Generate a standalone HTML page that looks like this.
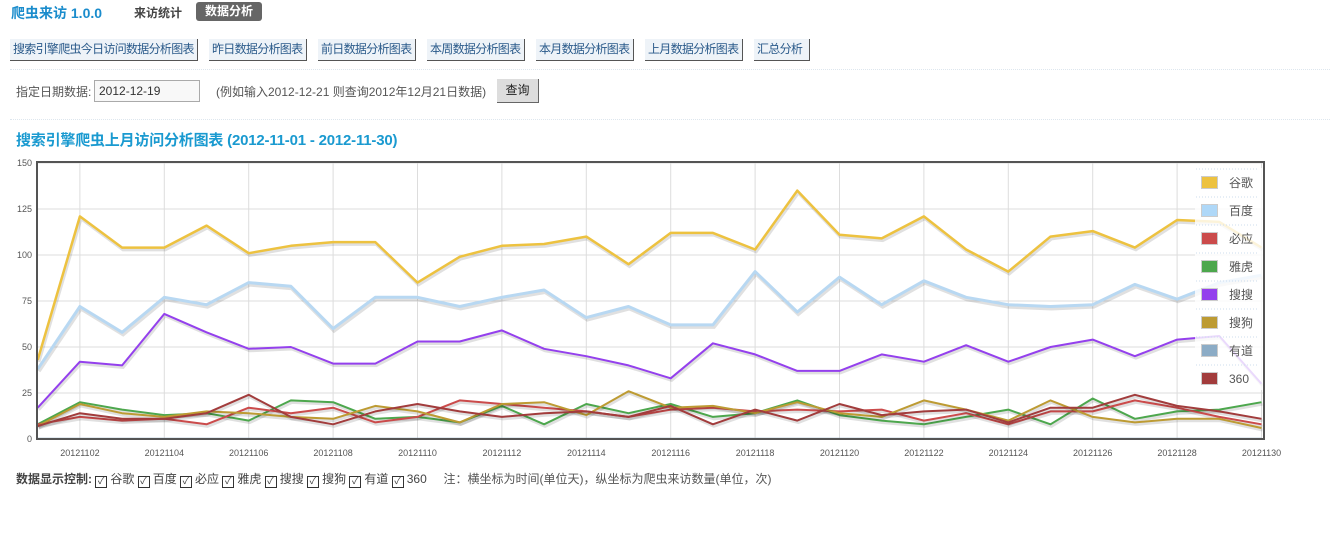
<!DOCTYPE html>
<html><head><meta charset="utf-8"><style>
body{margin:0;width:1331px;height:536px;background:#fff;font-family:"Liberation Sans","Noto Sans CJK SC",sans-serif;font-size:12px;color:#333;position:relative;overflow:hidden}
.a{position:absolute;white-space:nowrap}
.btn{position:absolute;top:39px;height:22px;line-height:21px;background:#eef3f8;border-right:1px solid #555;border-bottom:1px solid #555;color:#2a5a8a;font-size:12px;letter-spacing:-0.7px;padding:0 3px;box-sizing:border-box;white-space:nowrap;overflow:hidden}
.dot{position:absolute;left:10px;width:1320px;border-top:1px dotted #dde6ee}
.cb{display:inline-block;width:10px;height:10px;border:1px solid #333;font-size:10px;line-height:9px;text-align:center;vertical-align:-1px;margin-right:3px}
</style></head><body>
<div class="a" style="left:11px;top:3px;font-size:14px;font-weight:bold;color:#1a8ccc">爬虫来访 1.0.0</div>
<div class="a" style="left:134px;top:4px;font-size:12px;font-weight:bold;color:#444">来访统计</div>
<div class="a" style="left:196px;top:2px;width:66px;height:19px;background:#666;border-radius:3px;color:#fff;font-weight:bold;font-size:12px;line-height:19px;text-align:center">数据分析</div>
<div class="btn" style="left:10px;width:188px">搜索引擎爬虫今日访问数据分析图表</div>
<div class="btn" style="left:209px;width:98px">昨日数据分析图表</div>
<div class="btn" style="left:318px;width:98px">前日数据分析图表</div>
<div class="btn" style="left:427px;width:98px">本周数据分析图表</div>
<div class="btn" style="left:536px;width:98px">本月数据分析图表</div>
<div class="btn" style="left:645px;width:98px">上月数据分析图表</div>
<div class="btn" style="left:754px;width:56px">汇总分析</div>
<div class="dot" style="top:69px"></div>
<div class="a" style="left:16px;top:83px;color:#555">指定日期数据:</div>
<div class="a" style="left:94px;top:80px;border:1px solid #aaa;background:#f8f8f8;line-height:20px;padding-left:4px;box-sizing:border-box;width:106px;height:22px">2012-12-19</div>
<div class="a" style="left:216px;top:83px;color:#555">(例如输入2012-12-21 则查询2012年12月21日数据)</div>
<div class="a" style="left:497px;top:79px;width:41px;height:23px;background:#ddd;border-right:1px solid #666;border-bottom:1px solid #666;line-height:23px;text-align:center;color:#222">查询</div>
<div class="dot" style="top:119px"></div>
<div class="a" style="left:16px;top:129px;font-size:15px;font-weight:bold;color:#1a9ad0;letter-spacing:-0.2px">搜索引擎爬虫上月访问分析图表 (2012-11-01 - 2012-11-30)</div>
<svg id="c" class="a" style="left:0;top:150px" width="1331" height="310"></svg>
<div class="a" style="left:16px;top:470px;color:#444"><b>数据显示控制:</b> <span class="cb">✓</span>谷歌 <span class="cb">✓</span>百度 <span class="cb">✓</span>必应 <span class="cb">✓</span>雅虎 <span class="cb">✓</span>搜搜 <span class="cb">✓</span>搜狗 <span class="cb">✓</span>有道 <span class="cb">✓</span>360 &nbsp;&nbsp;&nbsp; <span style="color:#555">注：横坐标为时间(单位天)，纵坐标为爬虫来访数量(单位，次)</span></div>
<script>
var s='',X0=37.7,DX=42.2,Y0=289,K=276/150;
function X(i){return X0+i*DX}function Y(v){return Y0-v*K}
for(var v=0;v<=150;v+=25){s+='<line x1="37" x2="1264" y1="'+Y(v)+'" y2="'+Y(v)+'" stroke="#ddd"/>';s+='<text x="32" y="'+(Y(v)+3)+'" font-size="9" fill="#555" text-anchor="end">'+v+'</text>'}
for(var d=2;d<=30;d+=2){s+='<line x1="'+X(d-1)+'" x2="'+X(d-1)+'" y1="13" y2="289" stroke="#ddd"/>';s+='<text x="'+X(d-1)+'" y="306" font-size="9" fill="#555" text-anchor="middle">201211'+(d<10?'0':'')+d+'</text>'}
var D=[
['#b8d8f2',[38,72,58,77,73,85,83,60,77,77,72,77,81,66,72,62,62,91,69,88,73,86,77,73,72,73,84,76,85,89],3],
['#edc240',[43,121,104,104,116,101,105,107,107,85,99,105,106,110,95,112,112,103,135,111,109,121,103,91,110,113,104,119,118,104],2.5],
['#9440ed',[17,42,40,68,58,49,50,41,41,53,53,59,49,45,40,33,52,46,37,37,46,42,51,42,50,54,45,54,56,30],2],
['#4da74d',[8,20,16,13,14,10,21,20,11,12,9,18,8,19,14,19,12,14,21,13,10,8,12,16,8,22,11,15,16,20],2],
['#cb4b4b',[8,12,10,11,8,17,14,17,9,12,21,19,17,15,12,16,17,15,16,15,16,10,14,8,15,15,21,17,12,8],2],
['#bd9b33',[7,19,14,12,15,14,12,11,18,15,9,19,20,13,26,17,18,14,20,14,12,21,16,10,21,12,9,11,11,6],2],
['#a23c3c',[7,14,11,11,14,24,12,8,15,19,15,12,14,15,12,18,8,16,10,19,13,15,16,9,17,17,24,18,15,11],2],
['#8cacc6',[0,0,0,0,0,0,0,0,0,0,0,0,0,0,0,0,0,0,0,0,0,0,0,0,0,0,0,0,0,0],2.5]];
s+='<clipPath id="cp"><rect x="37" y="13" width="1227" height="277"/></clipPath><g clip-path="url(#cp)">';
D.forEach(function(d){var p=d[1].map(function(v,i){return X(i).toFixed(1)+','+Y(v).toFixed(1)}).join(' ');
s+='<polyline points="'+p+'" fill="none" stroke="rgba(0,0,0,0.12)" stroke-width="'+(d[2]+1)+'" transform="translate(1,2)"/>';
s+='<polyline points="'+p+'" fill="none" stroke="'+d[0]+'" stroke-width="'+d[2]+'" stroke-linejoin="round"/>'});
s+='</g><rect x="37" y="12" width="1227" height="277" fill="none" stroke="#545454" stroke-width="2"/>';
s+='<rect x="1195" y="18" width="68" height="222" fill="#fff" opacity="0.8"/>';
var L=[['谷歌','#edc240'],['百度','#afd8f8'],['必应','#cb4b4b'],['雅虎','#4da74d'],['搜搜','#9440ed'],['搜狗','#bd9b33'],['有道','#8cacc6'],['360','#a23c3c']];
L.forEach(function(l,i){var y=33+i*28;s+='<rect x="1201.5" y="'+(y-6.5)+'" width="16" height="12" fill="'+l[1]+'" stroke="#ccc"/>';s+='<text x="1229" y="'+(y+4)+'" font-size="12" fill="#555">'+l[0]+'</text>';s+='<line x1="1196" x2="1258" y1="'+(y-14)+'" y2="'+(y-14)+'" stroke="#cde" stroke-dasharray="1,2"/>'});
document.getElementById('c').innerHTML=s;
</script>
</body></html>
